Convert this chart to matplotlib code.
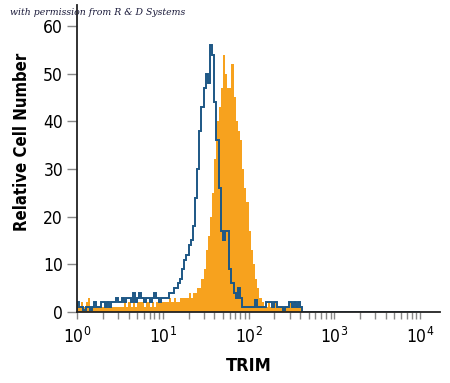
import numpy as np
import matplotlib
matplotlib.use('Agg')
import matplotlib.pyplot as plt
from matplotlib import font_manager

# histogram bins: 0.025 decade wide, starting at 10^0
bin_step = 0.025

blue_counts = [
    2, 1, 1, 0.5, 1, 1, 0.5, 1, 2, 1,
    1, 2, 2, 1, 2, 1, 2, 2, 3, 2,
    2, 3, 2, 3, 3, 2, 4, 2, 3, 4,
    3, 2, 3, 3, 2, 3, 4, 3, 2, 3,
    3, 3, 3, 4, 4, 5, 5, 6, 7, 9,
    11, 12, 14, 15, 18, 24, 30, 38, 43, 47,
    50, 48, 56, 54, 44, 36, 26, 17, 15, 17,
    17, 9, 6, 4, 3, 5, 3, 1, 1, 1,
    1, 1, 1, 2.5, 1, 1, 1, 1, 2, 2,
    2, 1, 2, 1, 1, 1, 0.5, 1, 1, 2,
    1, 2, 1, 2, 1, 0,
]

orange_counts = [
    1, 1, 2, 1, 2, 3, 1, 1, 1, 1,
    1, 1, 1, 2, 1, 1, 1, 1, 1, 1,
    1, 1, 2, 1, 2, 1, 2, 1, 2, 2,
    2, 1, 2, 2, 1, 2, 1, 2, 2, 2,
    2, 2, 2, 3, 2, 3, 2, 2, 3, 3,
    3, 3, 4, 3, 4, 4, 5, 5, 7, 9,
    13, 16, 20, 25, 32, 40, 43, 47, 54, 50,
    47, 47, 52, 45, 40, 38, 36, 30, 26, 23,
    17, 13, 10, 7, 5, 3, 2, 1, 1, 2,
    1, 1, 2, 1, 1, 1, 1, 1, 1, 2,
    1, 1, 1, 1, 1, 0,
]

x_ticks = [1, 10, 100, 1000, 10000]
x_tick_labels = ['$10^0$', '$10^1$', '$10^2$', '$10^3$', '$10^4$']
y_ticks = [0, 10, 20, 30, 40, 50, 60]

names = {f.name for f in font_manager.fontManager.ttflist}
narrow = 'Liberation Sans Narrow' if 'Liberation Sans Narrow' in names else 'DejaVu Sans'
plt.rcParams['font.family'] = [narrow, 'DejaVu Sans']
plt.rcParams['font.stretch'] = 'condensed'
plt.rcParams['mathtext.fontset'] = 'custom'
plt.rcParams['mathtext.rm'] = narrow + ':stretch=condensed'
plt.rcParams['mathtext.it'] = narrow + ':stretch=condensed'

n = len(blue_counts)
edges = 10 ** (bin_step * np.arange(n + 1))

fig = plt.figure(figsize=(4.5, 3.83), dpi=100)
ax = fig.add_axes([77 / 450, 71 / 383, 363 / 450, 307 / 383])

ax.stairs(orange_counts, edges, fill=True, color='#f7a21e', linewidth=0)
blue_edges = np.append(edges, 1e4)
ax.stairs(blue_counts + [0], blue_edges, color='#1d5785', linewidth=1.4)

ax.set_xscale('log')
ax.set_xlim(1, 10 ** 4.23)
ax.set_ylim(0, 64.4)

ax.spines['top'].set_visible(False)
ax.spines['right'].set_visible(False)
ax.spines['left'].set_linewidth(1.3)
ax.spines['bottom'].set_linewidth(1.3)
ax.spines['left'].set_color('#222222')
ax.spines['bottom'].set_color('#222222')

ax.set_xticks(x_ticks)
ax.set_xticklabels(x_tick_labels, fontsize=12.5)
ax.xaxis.set_minor_locator(matplotlib.ticker.LogLocator(base=10, subs=np.arange(2, 10)))
ax.xaxis.set_minor_formatter(matplotlib.ticker.NullFormatter())
ax.set_yticks(y_ticks)
ax.set_yticklabels([str(v) for v in y_ticks], fontsize=12.5)

ax.tick_params(axis='x', which='both', direction='out', length=5, width=1, color='#888888', pad=6)
ax.tick_params(axis='y', which='major', direction='out', length=7, width=1, color='#888888', pad=3)

ax.set_xlabel('TRIM', fontsize=13, fontweight='bold')
ax.xaxis.set_label_coords(0.474, -0.147)
ax.set_ylabel('Relative Cell Number', fontsize=12, fontweight='bold')
ax.yaxis.set_label_coords(-0.128, 0.554)

fig.text(0.022, 0.967, 'with permission from R & D Systems', fontsize=7.5,
         fontstyle='italic', family='DejaVu Serif', color='#1a1a3a', va='center')

fig.savefig('out.png', dpi=100)
